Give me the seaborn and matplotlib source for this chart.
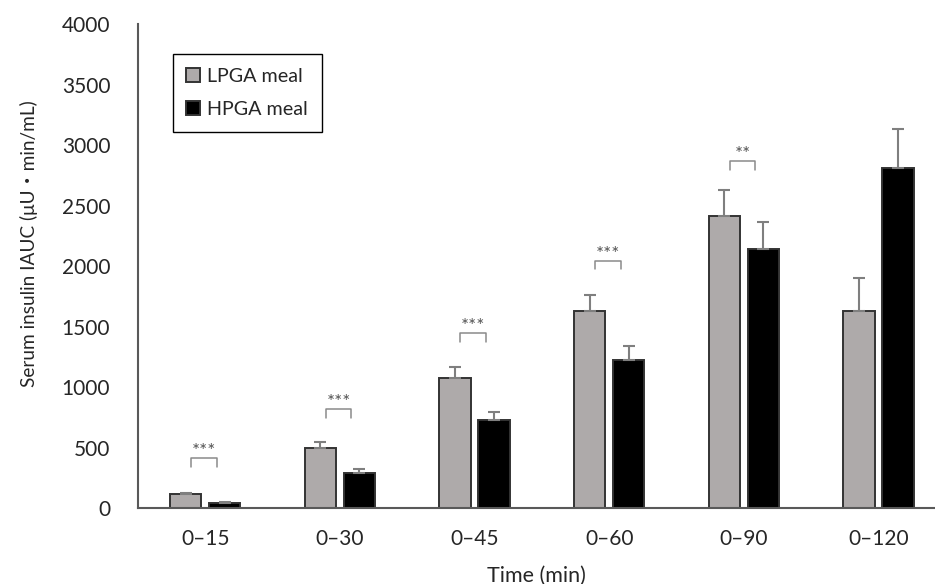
"""
Serum insulin IAUC by time window, LPGA vs HPGA meal.
"""
import numpy as np
import pandas as pd
import matplotlib
matplotlib.use("Agg")
import matplotlib.pyplot as plt
import seaborn as sns

# ---- data ----
TIME_WINDOWS = ["0–15", "0–30", "0–45", "0–60", "0–90", "0–120"]
MEALS = ["LPGA meal", "HPGA meal"]
LPGA_MEAN = [116, 500, 1080, 1633, 2413, 1633]
LPGA_SD = [13, 48, 90, 132, 220, 268]
HPGA_MEAN = [44, 289, 727, 1228, 2145, 2815]
HPGA_SD = [8, 33, 66, 111, 224, 317]
SIG_LABELS = ["***", "***", "***", "***", "**"]
SIG_HEIGHTS = [413, 818, 1450, 2046, 2868]
Y_TICKS = [0, 500, 1000, 1500, 2000, 2500, 3000, 3500, 4000]

sns.set_style("white")
plt.rcParams["font.family"] = ["Lato", "Noto Sans CJK JP", "DejaVu Sans"]

df = pd.DataFrame({
    "time": TIME_WINDOWS * 2,
    "meal": [MEALS[0]] * len(TIME_WINDOWS) + [MEALS[1]] * len(TIME_WINDOWS),
    "value": LPGA_MEAN + HPGA_MEAN,
})
sd_by_meal = {MEALS[0]: LPGA_SD, MEALS[1]: HPGA_SD}

fig = plt.figure(figsize=(9.35, 5.84), dpi=100)
ax = fig.add_axes([138 / 935, 1 - 508.3 / 584, 797 / 935, 484 / 584])

palette = {MEALS[0]: "#AEAAAA", MEALS[1]: "#000000"}
sns.barplot(data=df, x="time", y="value", hue="meal", order=TIME_WINDOWS,
            hue_order=MEALS, palette=palette, width=0.58, gap=0.2,
            edgecolor="#333333", linewidth=1.4, errorbar=None, ax=ax,
            saturation=1)

# upper-only error bars
for meal, container in zip(MEALS, ax.containers):
    xs = [p.get_x() + p.get_width() / 2 for p in container]
    hs = [p.get_height() for p in container]
    sds = sd_by_meal[meal]
    ax.errorbar(xs, hs, yerr=[np.zeros(len(sds)), sds], fmt="none",
                ecolor="#7f7f7f", elinewidth=1.5, capsize=4, capthick=1.5,
                zorder=1)

# significance brackets
for i, (lab, yb) in enumerate(zip(SIG_LABELS, SIG_HEIGHTS)):
    x0, x1 = i - 0.105, i + 0.085
    ax.plot([x0, x0, x1, x1], [yb - 72, yb, yb, yb - 72],
            color="#8a8a8a", lw=1.1)
    ax.text((x0 + x1) / 2, yb - 15, lab, ha="center", va="bottom",
            fontsize=13.5, color="#555555")

ax.set_ylim(0, 4000)
ax.set_xlim(-0.5, 5.42)
ax.set_yticks(Y_TICKS)
ax.tick_params(axis="y", direction="in", length=8, width=1.5,
               color="#595959", pad=20, labelsize=15)
ax.tick_params(axis="x", length=0, pad=15, labelsize=15)

for side in ["top", "right"]:
    ax.spines[side].set_visible(False)
for side in ["left", "bottom"]:
    ax.spines[side].set_color("#595959")
    ax.spines[side].set_linewidth(1.5)

ax.set_xlabel("Time (min)", fontsize=15.5)
ax.set_ylabel("Serum insulin IAUC (μU・min/mL)", fontsize=13.7)
ax.xaxis.set_label_coords(0.5, -0.118)
ax.yaxis.set_label_coords(-0.125, 0.547)

handles, labels = ax.get_legend_handles_labels()
ax.legend(handles, labels, loc="upper left", bbox_to_anchor=(0.0435, 0.938),
          frameon=True, fancybox=False, edgecolor="black", framealpha=1,
          fontsize=14.2, handlelength=0.7, handleheight=0.7, handletextpad=0.35,
          borderpad=0.7, labelspacing=0.8, borderaxespad=0)
ax.get_legend().get_frame().set_linewidth(1.0)

fig.savefig("out.png", dpi=100)
